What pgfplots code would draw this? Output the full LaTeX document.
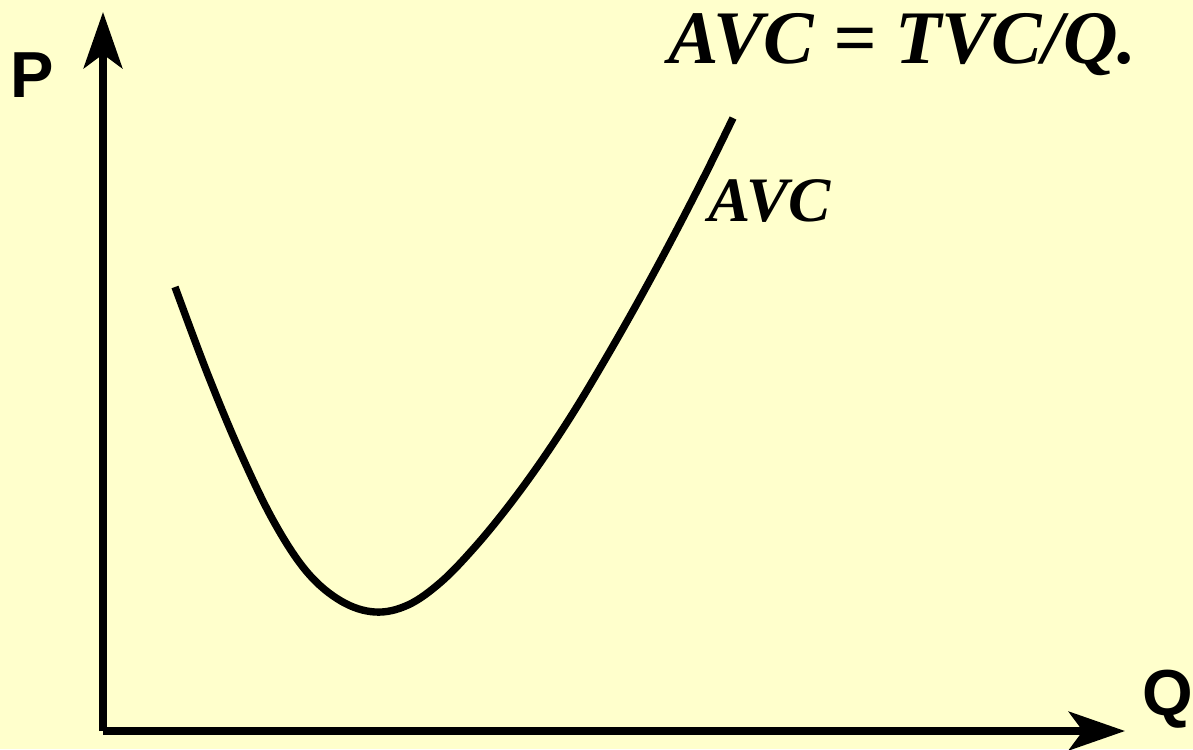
\documentclass[border=0pt]{standalone}
\usepackage{fontspec}
\setmainfont{Liberation Serif}
\newfontfamily\sansf{Liberation Sans}
\usepackage{pgfplots}
\pgfplotsset{compat=1.18}
\usetikzlibrary{arrows.meta}
\definecolor{bg}{HTML}{FFFFCC}
\begin{document}
\begin{tikzpicture}
\begin{axis}[
  set layers,
  x=0.01cm, y=0.01cm,
  xmin=103, xmax=1125, ymin=18, ymax=737,
  axis lines=left,
  axis line style={line width=2.1pt, -{Stealth[length=16pt,width=11pt,inset=4pt]}},
  xtick=\empty, ytick=\empty,
  clip=false,
]
\begin{pgfonlayer}{axis background}
\fill[bg] (axis cs:0,0) rectangle (axis cs:1193,749);
\end{pgfonlayer}
\coordinate (bl) at (axis cs:0,0);
\coordinate (tr) at (axis cs:1193,749);
\addplot[black, line width=2.1pt, smooth, tension=0.6] coordinates {
(175,462) (208,374) (241,295) (274,227) (307,177) (341,148) (375,137)
(408,144) (441,167) (474,201) (507,241) (540,286) (573,336) (606,391)
(639,449) (672,510) (705,574) (733,631)
};
\node[anchor=center, font=\sansf\bfseries\fontsize{18.5}{22}\selectfont] at (axis cs:32,674) {P};
\node[anchor=center, font=\sansf\bfseries\fontsize{18.5}{22}\selectfont] at (axis cs:1168,50) {Q};
\node[anchor=base west, inner sep=0pt, font=\bfseries\itshape\fontsize{21.5}{26}\selectfont] at (axis cs:668,685) {AVC = TVC/Q.};
\node[anchor=base west, inner sep=0pt, font=\bfseries\itshape\fontsize{18}{21}\selectfont] at (axis cs:708,527) {AVC};
\end{axis}
\pgfresetboundingbox
\path (bl) rectangle (tr);
\end{tikzpicture}
\end{document}
